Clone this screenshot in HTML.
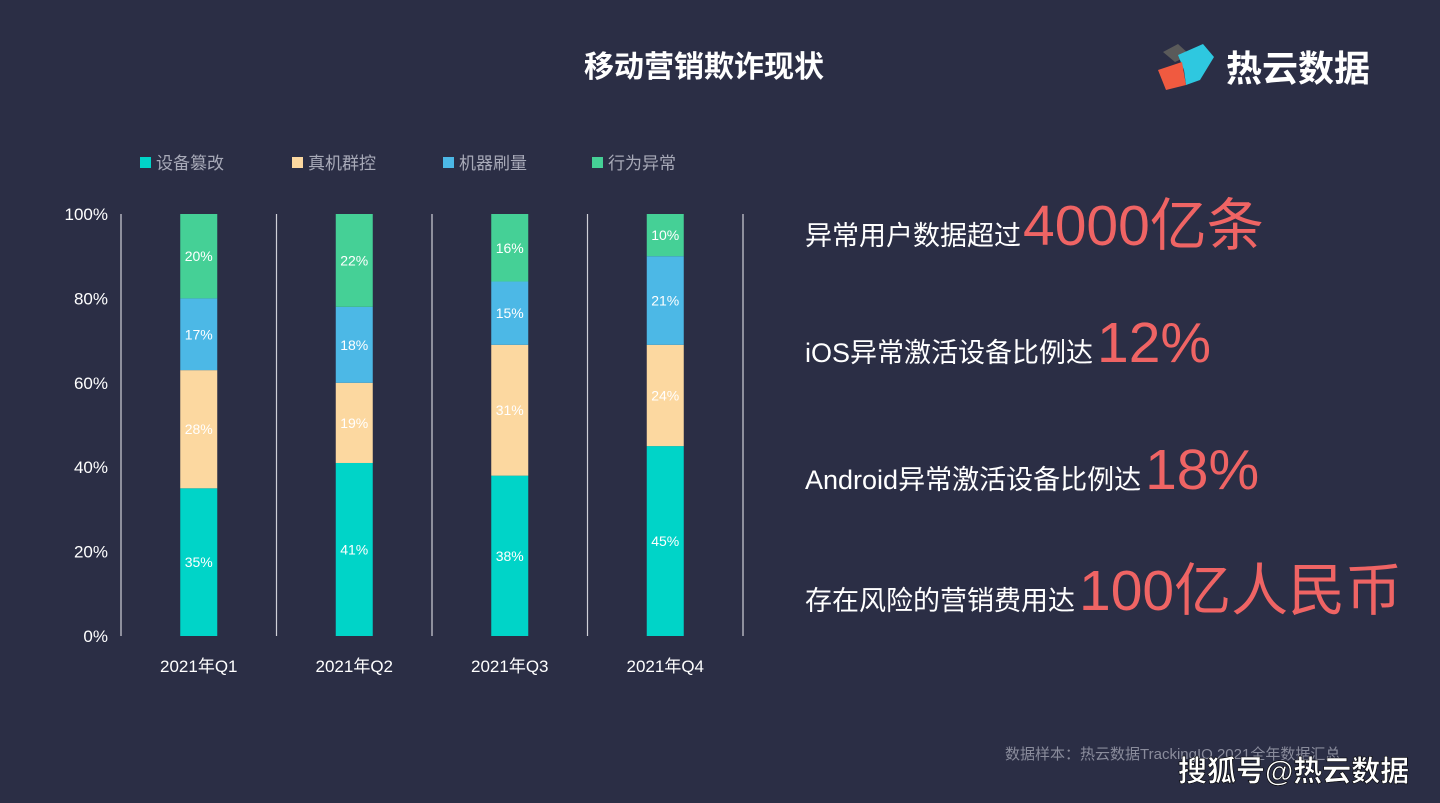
<!DOCTYPE html>
<html><head><meta charset="utf-8"><style>
html,body{margin:0;padding:0;background:#2b2e45;}
svg{display:block;font-family:"Liberation Sans","Noto Sans CJK SC",sans-serif;}
</style></head><body>
<svg id="chart" width="1440" height="803" viewBox="0 0 1440 803">
<rect width="1440" height="803" fill="#2b2e45"/>
<text x="704" y="77" text-anchor="middle" fill="#fff" font-size="30" font-weight="bold">移动营销欺诈现状</text>
<g>
<polygon points="1163,52 1178,44 1190,55 1175,62" fill="#5a5a5a"/>
<polygon points="1178,55 1203,44 1214,57 1200,80 1186,85 1184,70" fill="#2ec8e0"/>
<polygon points="1158,70 1182,62 1186,85 1166,90" fill="#f05a40"/>
<text x="1226" y="81" fill="#fff" font-size="36" font-weight="bold">热云数据</text>
</g>
<g id="legend"></g>
<g id="grid"></g>
<g id="bars"></g>
<g fill="#fff" font-size="27">
<text x="805" y="245">异常用户数据超过<tspan fill="#ef6464" font-size="57" dx="2">4000亿条</tspan></text>
<text x="805" y="362">iOS异常激活设备比例达<tspan fill="#ef6464" font-size="57" dx="4">12%</tspan></text>
<text x="805" y="489">Android异常激活设备比例达<tspan fill="#ef6464" font-size="57" dx="4">18%</tspan></text>
<text x="805" y="610">存在风险的营销费用达<tspan fill="#ef6464" font-size="57" dx="4">100亿人民币</tspan></text>
</g>
<text x="1005" y="759" fill="#8a8c9c" font-size="15">数据样本：热云数据TrackingIO 2021全年数据汇总</text>
<text x="1178" y="781" fill="#fff" font-size="29" font-weight="bold" stroke="#000" stroke-width="0.6">搜狐号@热云数据</text>
</svg>
<script>
const categories=["2021年Q1","2021年Q2","2021年Q3","2021年Q4"];
const seriesNames=["设备篡改","真机群控","机器刷量","行为异常"];
const tampering=[35,41,38,45];
const deviceFarm=[28,19,31,24];
const botTraffic=[17,18,15,21];
const abnormal=[20,22,16,10];
const yTicks=[0,20,40,60,80,100];
const colors=["#00d4c8","#fcd8a0","#4cb8e6","#45d096"];
const ns="http://www.w3.org/2000/svg";
const y0=636,y1=214,xL=121,band=155.5,bw=37;
const yS=v=>y0-(y0-y1)*v/100;
const xC=i=>xL+band*(i+0.5);
function mk(t,a,p){const e=document.createElementNS(ns,t);for(const k in a)e.setAttribute(k,a[k]);p.appendChild(e);return e;}
const grid=document.getElementById('grid');
yTicks.forEach(t=>{const e=mk('text',{x:108,y:yS(t)+6,'text-anchor':'end',fill:'#fff','font-size':17},grid);e.textContent=t+'%';

});
for(let i=0;i<=categories.length;i++){const l=mk('line',{x1:xL+band*i,x2:xL+band*i,y1:y1,y2:y0,stroke:'#cfd0d8','stroke-width':1.2},grid);

}
categories.forEach((c,i)=>{const e=mk('text',{x:xC(i),y:672,'text-anchor':'middle',fill:'#fff','font-size':17},grid);e.textContent=c;

});
const leg=document.getElementById('legend');
const legX=[140,292,443,592];
seriesNames.forEach((n,i)=>{const r=mk('rect',{x:legX[i],y:157,width:11,height:11,fill:colors[i]},leg);


const t=mk('text',{x:legX[i]+16,y:169,fill:'#a8aab8','font-size':17},leg);t.textContent=n;

});
const bars=document.getElementById('bars');
const series=[tampering,deviceFarm,botTraffic,abnormal];
categories.forEach((c,i)=>{let acc=0;series.forEach((s,j)=>{const v=s[i];const top=yS(acc+v),bot=yS(acc);
const r=mk('rect',{x:xC(i)-bw/2,y:top,width:bw,height:bot-top,fill:colors[j]},bars);


const t=mk('text',{x:xC(i),y:(top+bot)/2+5,'text-anchor':'middle',fill:'#fff','font-size':14},bars);t.textContent=v+'%';


acc+=v;});});
</script>
</body></html>
